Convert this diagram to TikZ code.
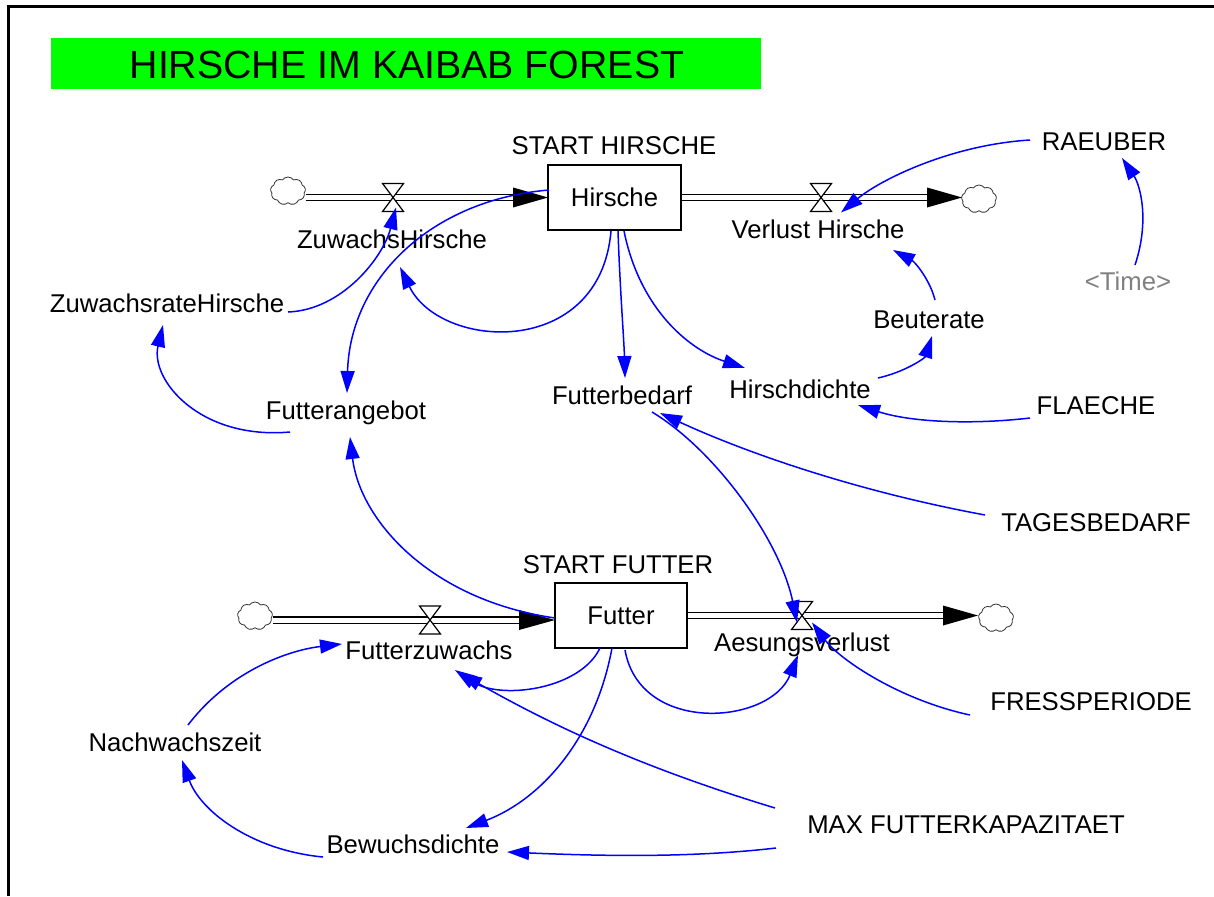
\documentclass[tikz,border=0pt]{standalone}
\usepackage{fontspec}
\setmainfont{Liberation Sans}
\usetikzlibrary{arrows.meta,shapes.symbols,calc}
\definecolor{linkblue}{RGB}{0,0,255}
\definecolor{timegray}{RGB}{128,128,128}
\begin{document}
\begin{tikzpicture}[x=1pt,y=-1pt,
  lbl/.style={inner sep=0pt, text height=18.5pt, text depth=1.5pt, font=\fontsize{25.7}{30}\selectfont},
  stockbox/.style={draw, line width=1.4pt, minimum width=133pt, minimum height=65pt, inner sep=0pt, text height=18.5pt, text depth=1.5pt, font=\fontsize{25.7}{30}\selectfont},
  cloudnode/.style={cloud, cloud puffs=9, cloud puff arc=110, draw=black!80, line width=0.8pt, minimum width=35pt, minimum height=28pt, inner sep=0pt},
  pipe/.style={draw, double, double distance=5pt, line width=1.4pt},
  valveshape/.style={draw, fill=white, line width=1.2pt},
  link/.style={draw=linkblue, line width=1.5pt, -{Triangle[length=22pt,width=14pt]}},
]
\useasboundingbox (0,0) rectangle (1214,896);
% frame
\draw[line width=3pt] (1214,7) -- (8,7) -- (8,896);
% title
\node[fill=green, minimum width=710pt, minimum height=51pt, inner sep=0pt] (titlebox) at (406,63.5) {};
\node[inner sep=0pt, text height=28.2pt, text depth=0pt, font=\fontsize{39.3}{44}\selectfont] (title) at (407,64) {HIRSCHE IM KAIBAB FOREST};

% stocks
\node[stockbox] (H) at (614.5,197.5) {Hirsche};
\node[lbl] (SH) at (614,146) {START HIRSCHE};
\node[stockbox, minimum width=132pt] (F) at (621,615.5) {Futter};
\node[lbl] (SF) at (618,565) {START FUTTER};

% clouds
\node[cloudnode] (cH1) at (288,191) {};
\node[cloudnode] (cH2) at (979,199) {};
\node[cloudnode] (cF1) at (255,616) {};
\node[cloudnode] (cF2) at (996,618) {};

% pipe coordinates
\coordinate (hin) at (548,197.5);
\coordinate (hout) at (962,197.5);
\coordinate (fin) at (555,620);
\coordinate (fout) at (978,615.5);

% pipes
\draw[pipe] (cH1.east |- hin) -- ($(hin)+(-35,0)$);
\fill ($(hin)+(-35,-10)$) -- (hin) -- ($(hin)+(-35,10)$) -- cycle;
\draw[pipe] (H.east) -- ($(hout)+(-35,0)$);
\fill ($(hout)+(-35,-10)$) -- (hout) -- ($(hout)+(-35,10)$) -- cycle;
\draw[pipe] (cF1.east |- fin) -- ($(fin)+(-36,0)$);
\fill ($(fin)+(-36,-10)$) -- (fin) -- ($(fin)+(-36,10)$) -- cycle;
\draw[pipe] (F.east |- fout) -- ($(fout)+(-35,0)$);
\fill ($(fout)+(-35,-10)$) -- (fout) -- ($(fout)+(-35,10)$) -- cycle;

% valves
\coordinate (vZH) at (393,197.5);
\coordinate (vVH) at (821,197.5);
\coordinate (vFZ) at (430,620);
\coordinate (vAV) at (802,615.5);
\foreach \v in {vZH,vVH,vFZ,vAV}{
  \draw[valveshape] ($(\v)+(-10.5,-14)$) -- ($(\v)+(10.5,-14)$) -- ($(\v)+(-10.5,14)$) -- ($(\v)+(10.5,14)$) -- cycle;
}

% flow labels
\node[lbl] (ZH) at (392,240) {ZuwachsHirsche};
\node[lbl] (VH) at (818,230) {Verlust Hirsche};
\node[lbl] (FZ) at (429,651) {Futterzuwachs};
\node[lbl] (AV) at (802,643) {Aesungsverlust};

% auxiliaries
\node[lbl] (ZR) at (167,304) {ZuwachsrateHirsche};
\node[lbl] (FA) at (346,411) {Futterangebot};
\node[lbl] (FB) at (622,396) {Futterbedarf};
\node[lbl] (HD) at (800,390) {Hirschdichte};
\node[lbl] (BR) at (929,320) {Beuterate};
\node[lbl] (FL) at (1096,406) {FLAECHE};
\node[lbl] (RA) at (1104,142) {RAEUBER};
\node[lbl, text=timegray] (TI) at (1128,282) {<Time>};
\node[lbl] (TB) at (1096,523) {TAGESBEDARF};
\node[lbl] (FR) at (1091,702) {FRESSPERIODE};
\node[lbl] (NZ) at (175,743) {Nachwachszeit};
\node[lbl] (BD) at (413,845) {Bewuchsdichte};
\node[lbl] (MX) at (966,825) {MAX FUTTERKAPAZITAET};

% connectors
\draw[link] ($(ZR)+(121,8)$) .. controls ($(ZR)+(175,6)$) and ($(vZH)+(-10,60)$) .. ($(vZH)+(3,10)$);
\draw[link] ($(H)+(-65.5,-7.5)$) .. controls (430,200) and (350,280) .. ($(FA)+(1,-18)$);
\draw[link] ($(H)+(-3.5,33.5)$) .. controls (600,360) and (440,350) .. ($(ZH)+(8,27)$);
\draw[link] ($(H)+(3.5,33.5)$) .. controls (620,290) and (624,340) .. ($(FB)+(3,-18)$);
\draw[link] ($(H)+(9.5,33.5)$) .. controls (640,310) and (690,350) .. ($(HD)+(-55,-22)$);
\draw[link] ($(HD)+(78,-12)$) .. controls (905,372) and (925,358) .. ($(BR)+(3,16)$);
\draw[link] ($(BR)+(6,-20)$) .. controls (930,280) and (915,262) .. ($(VH)+(75,20)$);
\draw[link] ($(RA)+(-74,-2)$) .. controls (950,145) and (880,180) .. ($(vVH)+(20,15)$);
\draw[link] ($(TI)+(7,-17)$) .. controls (1150,220) and (1140,185) .. ($(RA)+(18,16)$);
\draw[link] ($(FL)+(-66,12)$) .. controls (970,425) and (910,422) .. ($(HD)+(58,15)$);
\draw[link] ($(TB)+(-111,-8)$) .. controls (850,490) and (740,450) .. ($(FB)+(38,17)$);
\draw[link] ($(FB)+(30,16)$) .. controls (715,450) and (780,540) .. ($(vAV)+(-5,7)$);
\draw[link] ($(FA)+(-56,21)$) .. controls (200,440) and (150,380) .. ($(ZR)+(-4,21)$);
\draw[link] ($(F)+(-66,2.5)$) .. controls (430,600) and (360,520) .. ($(FA)+(4,26)$);
\draw[link] ($(F)+(-21,32.5)$) .. controls (580,690) and (500,700) .. ($(FZ)+(26,19)$);
\draw[link] ($(MX)+(-191,-17)$) .. controls (650,770) and (560,730) .. ($(FZ)+(31,22)$);
\draw[link] ($(F)+(-9,32.5)$) .. controls (595,740) and (540,800) .. ($(BD)+(53,-17)$);
\draw[link] ($(MX)+(-190,23)$) .. controls (690,858) and (600,856) .. ($(BD)+(94,7)$);
\draw[link] ($(F)+(4,34.5)$) .. controls (640,735) and (770,725) .. ($(AV)+(-4,12)$);
\draw[link] ($(FR)+(-121,13)$) .. controls (900,700) and (840,660) .. ($(vAV)+(10,7)$);
\draw[link] ($(NZ)+(13,-18)$) .. controls (230,670) and (290,650) .. ($(FZ)+(-87,-7)$);
\draw[link] ($(BD)+(-90,12)$) .. controls (250,850) and (200,810) .. ($(NZ)+(7,17)$);
\end{tikzpicture}
\end{document}
